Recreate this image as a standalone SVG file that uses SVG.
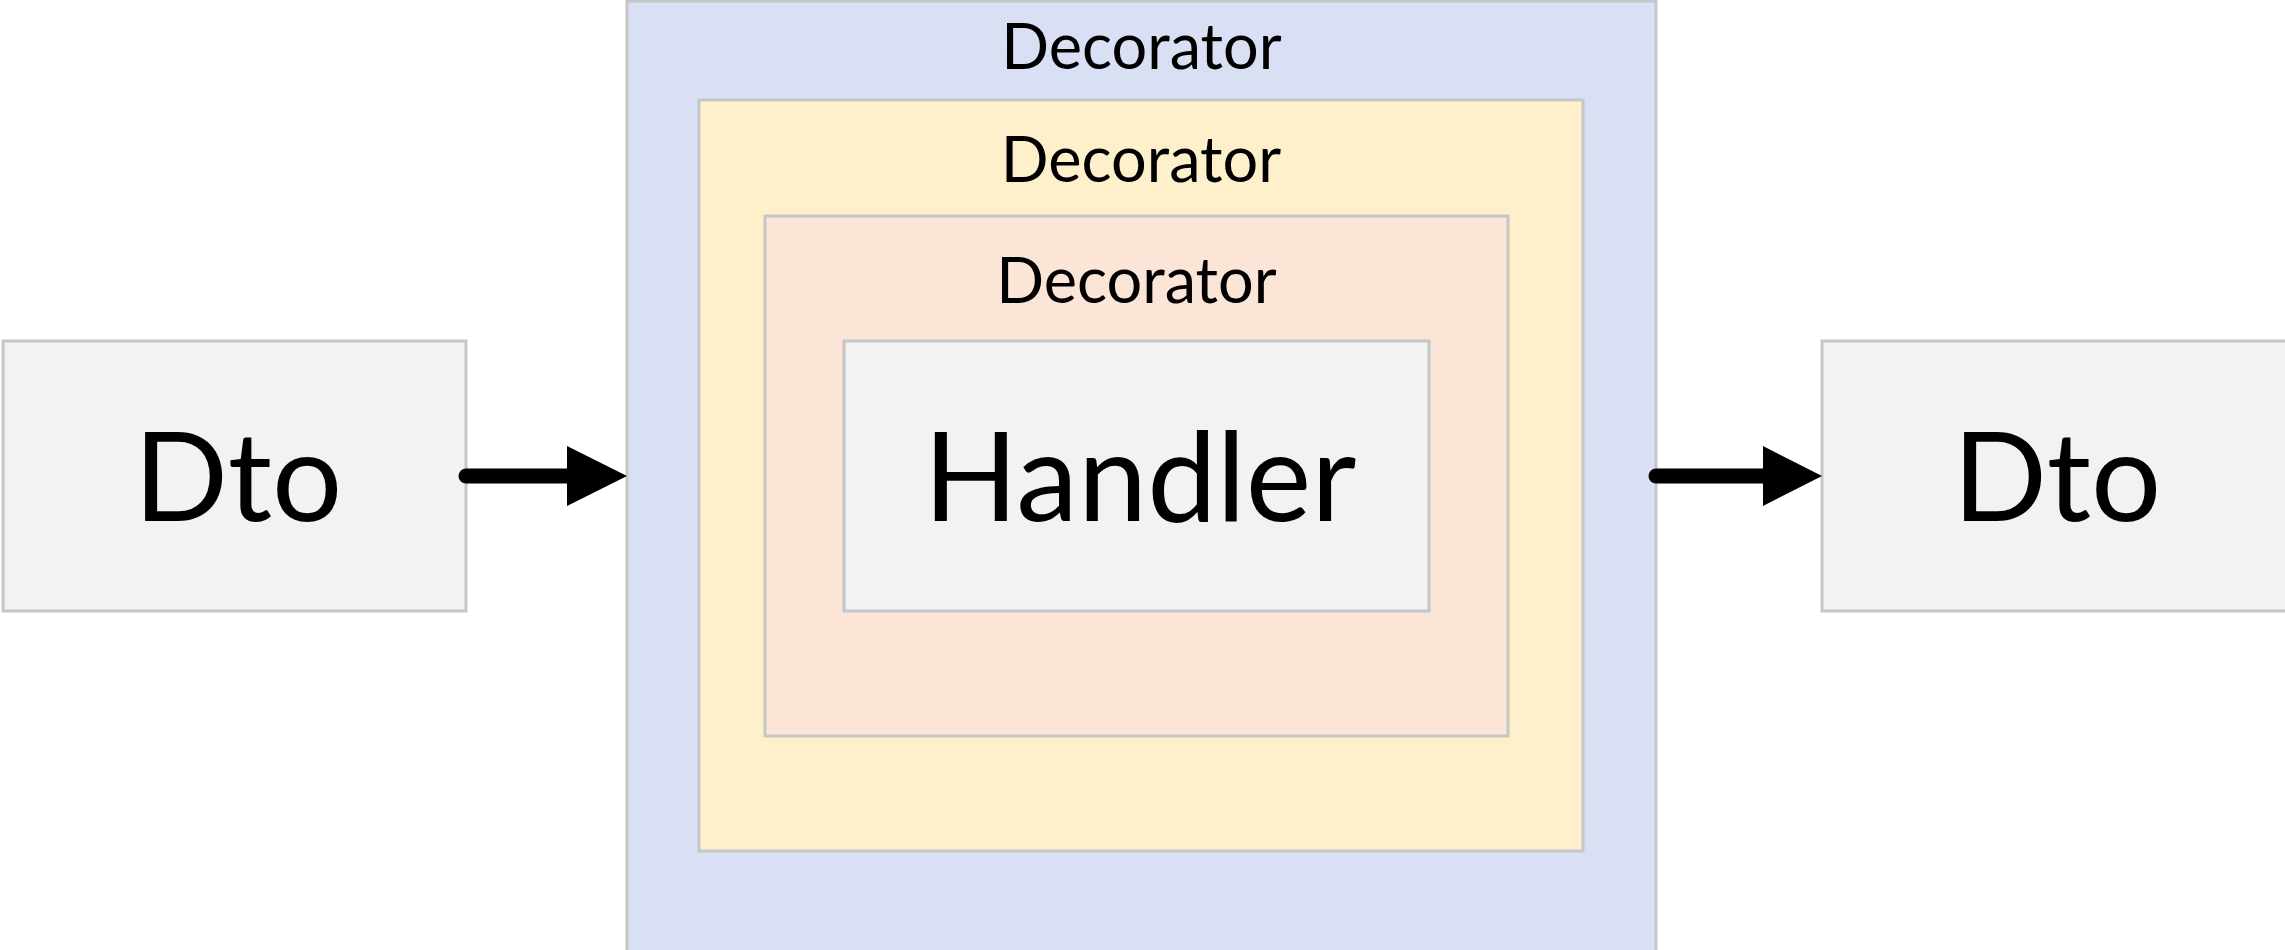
<svg xmlns="http://www.w3.org/2000/svg" width="2285" height="950" viewBox="0 0 2285 950">
<style>
.box{stroke:#c6c6c6;stroke-width:3}
.lbl{font-family:Lato,"Open Sans","Liberation Sans",sans-serif;fill:#000;text-anchor:middle}
.big{font-size:124px}
.dec{font-size:63px}
.conn{stroke:#000;stroke-width:15;stroke-linecap:round;fill:none}
.head{fill:#000}
</style>
<rect width="2285" height="950" fill="#ffffff"/>
<g id="decorator-outer">
<rect class="box" x="627" y="1" width="1029" height="951" fill="#dae0f3"/>
<text class="lbl dec" x="1141.5" y="69">Decorator</text>
</g>
<g id="decorator-middle">
<rect class="box" x="699" y="100" width="884" height="751" fill="#fff0cc"/>
<text class="lbl dec" x="1141" y="182">Decorator</text>
</g>
<g id="decorator-inner">
<rect class="box" x="765" y="216" width="743" height="520" fill="#fae5d6"/>
<text class="lbl dec" x="1136.5" y="303">Decorator</text>
</g>
<g id="handler">
<rect class="box" x="844" y="341" width="585" height="270" fill="#f2f2f2"/>
<text class="lbl big" x="1140" y="521">Handler</text>
</g>
<g id="dto-in">
<rect class="box" x="3" y="341" width="463" height="270" fill="#f2f2f2"/>
<text class="lbl big" x="238" y="521">Dto</text>
</g>
<g id="dto-out">
<rect class="box" x="1822" y="341" width="466" height="270" fill="#f2f2f2"/>
<text class="lbl big" x="2057" y="521">Dto</text>
</g>
<g id="connectors">
<line class="conn" x1="466" y1="476" x2="570" y2="476"/>
<polygon class="head" points="567,446 627,476 567,506"/>
<line class="conn" x1="1656" y1="476" x2="1766" y2="476"/>
<polygon class="head" points="1763,446 1822,476 1763,506"/>
</g>
</svg>
